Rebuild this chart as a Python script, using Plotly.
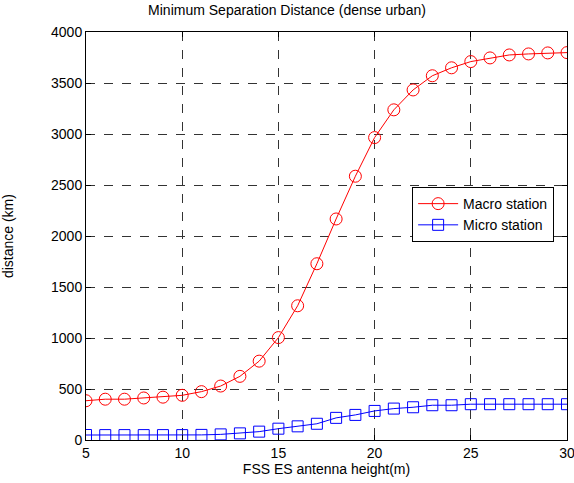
import plotly.graph_objects as go

heights = list(range(5, 31))
macro = [385, 400, 400, 412, 420, 438, 474, 529, 624, 773, 1004, 1316, 1728, 2167,
         2586, 2965, 3237, 3432, 3571, 3649, 3710, 3746, 3775, 3785, 3795, 3798]
micro = [49, 48, 48, 48, 48, 48, 50, 55, 65, 82, 111, 134, 159, 217,
         246, 285, 308, 321, 341, 341, 351, 351, 351, 351, 351, 351]

title = "Minimum Separation Distance (dense urban)"
xlabel = "FSS ES antenna height(m)"
ylabel = "distance (km)"

fig = go.Figure()
fig.add_trace(go.Scatter(x=heights, y=macro, name="Macro station", mode="lines+markers",
                         line=dict(color="red", width=1),
                         marker=dict(symbol="circle-open", size=12, color="red", line=dict(width=1))))
fig.add_trace(go.Scatter(x=heights, y=micro, name="Micro station", mode="lines+markers",
                         line=dict(color="blue", width=1),
                         marker=dict(symbol="square-open", size=11, color="blue", line=dict(width=1))))

font = dict(family="Liberation Sans, Arial, sans-serif", size=14, color="black")
axis_common = dict(showline=True, linecolor="black", linewidth=1, mirror="allticks",
                   ticks="inside", ticklen=5, tickcolor="black",
                   showgrid=True, gridcolor="#333333", griddash="dash", gridwidth=1,
                   zeroline=False, tickfont=font, automargin=False)

fig.update_layout(
    width=574, height=483,
    margin=dict(l=86, r=7, t=32, b=43),
    paper_bgcolor="white", plot_bgcolor="white",
    title=dict(text=title, x=0.5, xanchor="center", y=0.99, yanchor="top",
               font=dict(family="Liberation Sans, Arial, sans-serif", size=14, color="black")),
    xaxis=dict(range=[5, 30], tickvals=[5, 10, 15, 20, 25, 30], ticklabeloverflow="allow",
               title=dict(text=xlabel, font=font, standoff=4), **axis_common),
    yaxis=dict(range=[0, 4000], tickvals=list(range(0, 4001, 500)), **axis_common),
    legend=dict(x=0.678, y=0.62, xanchor="left", yanchor="top",
                bgcolor="white", bordercolor="black", borderwidth=1,
                font=font, tracegroupgap=0, itemwidth=40),
    showlegend=True,
)
fig.add_annotation(text=ylabel, xref="paper", yref="paper", x=-0.162, y=0.5,
                   xanchor="center", yanchor="middle", textangle=-90, showarrow=False,
                   font=font)
fig.write_html("out.html")
